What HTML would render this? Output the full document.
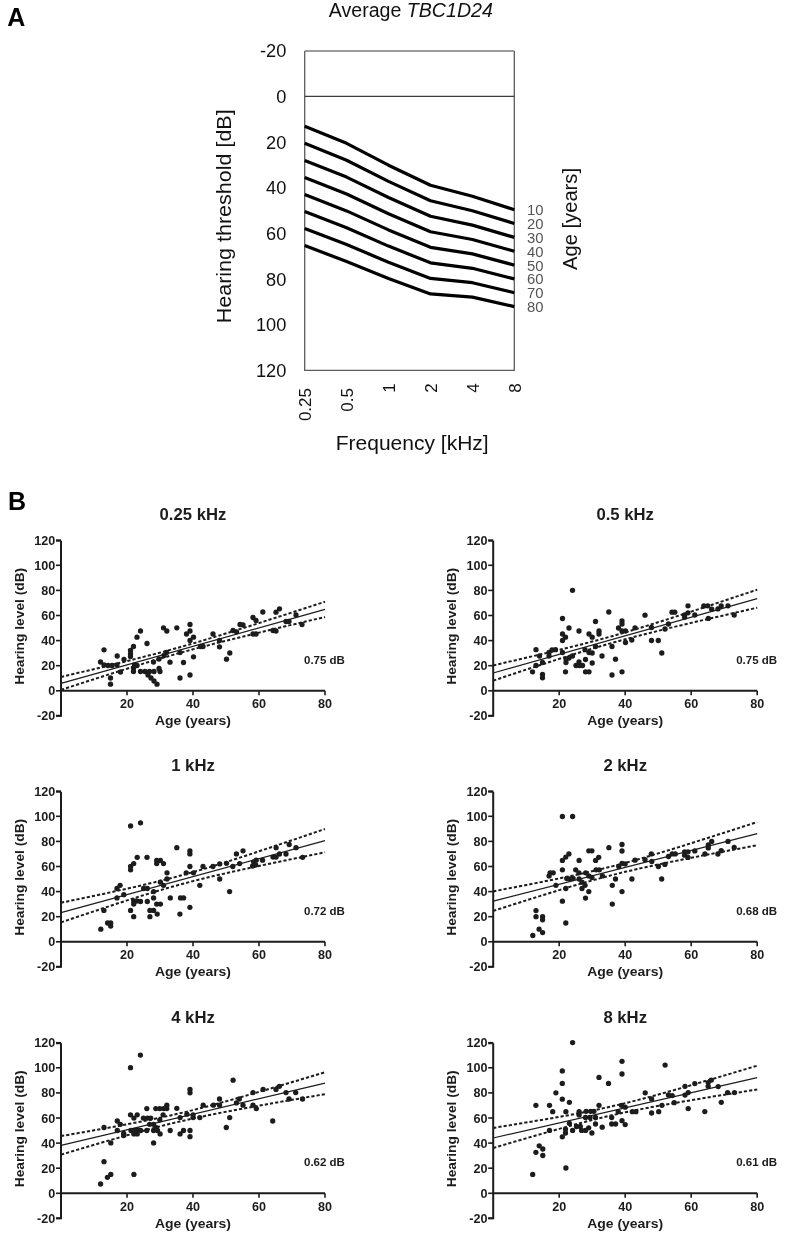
<!DOCTYPE html><html><head><meta charset="utf-8"><style>html,body{margin:0;padding:0;background:#fff;}svg{display:block;filter:blur(0.35px);}text{font-family:"Liberation Sans", sans-serif;}</style></head><body>
<svg width="799" height="1243" viewBox="0 0 799 1243">
<rect width="799" height="1243" fill="#fff"/>
<text x="7.3" y="26.3" font-size="25" font-weight="bold" fill="#000">A</text>
<text x="410.8" y="16.6" font-size="19.6" text-anchor="middle" fill="#111">Average <tspan font-style="italic">TBC1D24</tspan></text>
<path d="M304.7,51.0 V370.4 H514.3 V51.0" fill="none" stroke="#5c5c5c" stroke-width="1.3"/>
<line x1="304.7" y1="51.0" x2="514.3" y2="51.0" stroke="#7a7a7a" stroke-width="1.3"/>
<line x1="304.7" y1="96.4" x2="514.3" y2="96.4" stroke="#3c3c3c" stroke-width="1.1"/>
<text x="286.3" y="57.3" font-size="18.2" text-anchor="end" fill="#111">-20</text>
<text x="286.3" y="103.0" font-size="18.2" text-anchor="end" fill="#111">0</text>
<text x="286.3" y="148.7" font-size="18.2" text-anchor="end" fill="#111">20</text>
<text x="286.3" y="194.3" font-size="18.2" text-anchor="end" fill="#111">40</text>
<text x="286.3" y="240.0" font-size="18.2" text-anchor="end" fill="#111">60</text>
<text x="286.3" y="285.7" font-size="18.2" text-anchor="end" fill="#111">80</text>
<text x="286.3" y="331.3" font-size="18.2" text-anchor="end" fill="#111">100</text>
<text x="286.3" y="377.0" font-size="18.2" text-anchor="end" fill="#111">120</text>
<text transform="translate(311.2,388) rotate(-90)" font-size="17" text-anchor="end" fill="#111">0.25</text>
<text transform="translate(353.12,388) rotate(-90)" font-size="17" text-anchor="end" fill="#111">0.5</text>
<text transform="translate(395.03999999999996,383.2) rotate(-90)" font-size="17" text-anchor="end" fill="#111">1</text>
<text transform="translate(436.96,383.2) rotate(-90)" font-size="17" text-anchor="end" fill="#111">2</text>
<text transform="translate(478.88,383.2) rotate(-90)" font-size="17" text-anchor="end" fill="#111">4</text>
<text transform="translate(520.8,383.2) rotate(-90)" font-size="17" text-anchor="end" fill="#111">8</text>
<text x="412.2" y="449.6" font-size="20" text-anchor="middle" textLength="153" lengthAdjust="spacingAndGlyphs" fill="#111">Frequency [kHz]</text>
<text transform="translate(230.5,216.3) rotate(-90)" font-size="20" text-anchor="middle" textLength="214" lengthAdjust="spacingAndGlyphs" fill="#111">Hearing threshold [dB]</text>
<text transform="translate(577.2,219) rotate(-90)" font-size="20" text-anchor="middle" textLength="102" lengthAdjust="spacingAndGlyphs" fill="#111">Age [years]</text>
<polyline points="304.7,126.3 346.6,143.3 388.5,165.2 430.5,185.2 472.4,196.3 514.3,209.7" fill="none" stroke="#000" stroke-width="3.2" stroke-linejoin="round"/>
<text x="527" y="215.1" font-size="14.8" fill="#555">10</text>
<polyline points="304.7,143.3 346.6,160.2 388.5,181.4 430.5,200.7 472.4,210.7 514.3,223.5" fill="none" stroke="#000" stroke-width="3.2" stroke-linejoin="round"/>
<text x="527" y="228.9" font-size="14.8" fill="#555">20</text>
<polyline points="304.7,160.4 346.6,177.1 388.5,197.5 430.5,216.3 472.4,225.1 514.3,237.4" fill="none" stroke="#000" stroke-width="3.2" stroke-linejoin="round"/>
<text x="527" y="242.8" font-size="14.8" fill="#555">30</text>
<polyline points="304.7,177.4 346.6,194.0 388.5,213.7 430.5,231.8 472.4,239.5 514.3,251.2" fill="none" stroke="#000" stroke-width="3.2" stroke-linejoin="round"/>
<text x="527" y="256.6" font-size="14.8" fill="#555">40</text>
<polyline points="304.7,194.5 346.6,210.9 388.5,229.9 430.5,247.3 472.4,253.9 514.3,265.1" fill="none" stroke="#000" stroke-width="3.2" stroke-linejoin="round"/>
<text x="527" y="270.5" font-size="14.8" fill="#555">50</text>
<polyline points="304.7,211.5 346.6,227.8 388.5,246.1 430.5,262.8 472.4,268.3 514.3,278.9" fill="none" stroke="#000" stroke-width="3.2" stroke-linejoin="round"/>
<text x="527" y="284.3" font-size="14.8" fill="#555">60</text>
<polyline points="304.7,228.5 346.6,244.6 388.5,262.2 430.5,278.4 472.4,282.7 514.3,292.7" fill="none" stroke="#000" stroke-width="3.2" stroke-linejoin="round"/>
<text x="527" y="298.1" font-size="14.8" fill="#555">70</text>
<polyline points="304.7,245.6 346.6,261.5 388.5,278.4 430.5,293.9 472.4,297.1 514.3,306.6" fill="none" stroke="#000" stroke-width="3.2" stroke-linejoin="round"/>
<text x="527" y="312.0" font-size="14.8" fill="#555">80</text>
<text x="8" y="509.8" font-size="25" font-weight="bold" fill="#000">B</text>
<g><text x="193" y="520.1999999999999" font-size="16.7" font-weight="bold" text-anchor="middle" fill="#1c1c1c">0.25 kHz</text><path d="M61,540.8 V715.8 H56 M56,540.8 H61 M61,690.8 H325" fill="none" stroke="#1c1c1c" stroke-width="2"/><line x1="56" y1="715.90" x2="61" y2="715.90" stroke="#1c1c1c" stroke-width="1.6"/><text x="55.2" y="720.40" font-size="12.6" font-weight="bold" text-anchor="end" fill="#1c1c1c">-20</text><line x1="56" y1="690.80" x2="61" y2="690.80" stroke="#1c1c1c" stroke-width="1.6"/><text x="55.2" y="695.30" font-size="12.6" font-weight="bold" text-anchor="end" fill="#1c1c1c">0</text><line x1="56" y1="665.70" x2="61" y2="665.70" stroke="#1c1c1c" stroke-width="1.6"/><text x="55.2" y="670.20" font-size="12.6" font-weight="bold" text-anchor="end" fill="#1c1c1c">20</text><line x1="56" y1="640.60" x2="61" y2="640.60" stroke="#1c1c1c" stroke-width="1.6"/><text x="55.2" y="645.10" font-size="12.6" font-weight="bold" text-anchor="end" fill="#1c1c1c">40</text><line x1="56" y1="615.50" x2="61" y2="615.50" stroke="#1c1c1c" stroke-width="1.6"/><text x="55.2" y="620.00" font-size="12.6" font-weight="bold" text-anchor="end" fill="#1c1c1c">60</text><line x1="56" y1="590.40" x2="61" y2="590.40" stroke="#1c1c1c" stroke-width="1.6"/><text x="55.2" y="594.90" font-size="12.6" font-weight="bold" text-anchor="end" fill="#1c1c1c">80</text><line x1="56" y1="565.30" x2="61" y2="565.30" stroke="#1c1c1c" stroke-width="1.6"/><text x="55.2" y="569.80" font-size="12.6" font-weight="bold" text-anchor="end" fill="#1c1c1c">100</text><line x1="56" y1="540.20" x2="61" y2="540.20" stroke="#1c1c1c" stroke-width="1.6"/><text x="55.2" y="544.70" font-size="12.6" font-weight="bold" text-anchor="end" fill="#1c1c1c">120</text><line x1="127.00" y1="690.8" x2="127.00" y2="695.3" stroke="#1c1c1c" stroke-width="1.6"/><text x="127.00" y="708.0" font-size="12.6" font-weight="bold" text-anchor="middle" fill="#1c1c1c">20</text><line x1="193.00" y1="690.8" x2="193.00" y2="695.3" stroke="#1c1c1c" stroke-width="1.6"/><text x="193.00" y="708.0" font-size="12.6" font-weight="bold" text-anchor="middle" fill="#1c1c1c">40</text><line x1="259.00" y1="690.8" x2="259.00" y2="695.3" stroke="#1c1c1c" stroke-width="1.6"/><text x="259.00" y="708.0" font-size="12.6" font-weight="bold" text-anchor="middle" fill="#1c1c1c">60</text><line x1="325.00" y1="690.8" x2="325.00" y2="695.3" stroke="#1c1c1c" stroke-width="1.6"/><text x="325.00" y="708.0" font-size="12.6" font-weight="bold" text-anchor="middle" fill="#1c1c1c">80</text><text x="193" y="725.4" font-size="13.4" font-weight="bold" text-anchor="middle" textLength="76" lengthAdjust="spacingAndGlyphs" fill="#1c1c1c">Age (years)</text><text transform="translate(23.9,626.3) rotate(-90)" font-size="13.4" font-weight="bold" text-anchor="middle" textLength="117" lengthAdjust="spacingAndGlyphs" fill="#1c1c1c">Hearing level (dB)</text><text x="304" y="663.5999999999999" font-size="11.5" font-weight="bold" fill="#1c1c1c">0.75 dB</text><line x1="61.0" y1="683.4" x2="325.0" y2="609.4" stroke="#1c1c1c" stroke-width="1.2"/><polyline points="61.0,677.0 74.2,673.8 87.4,670.7 100.6,667.5 113.8,664.3 127.0,661.1 140.2,657.7 153.4,654.4 166.6,650.9 179.8,647.2 193.0,643.5 206.2,639.5 219.4,635.5 232.6,631.4 245.8,627.3 259.0,623.1 272.2,618.8 285.4,614.6 298.6,610.3 311.8,606.0 325.0,601.7" fill="none" stroke="#1c1c1c" stroke-width="2" stroke-dasharray="3.2,2.05"/><polyline points="61.0,689.8 74.2,685.6 87.4,681.3 100.6,677.1 113.8,672.9 127.0,668.7 140.2,664.6 153.4,660.6 166.6,656.7 179.8,652.9 193.0,649.3 206.2,645.8 219.4,642.4 232.6,639.1 245.8,635.9 259.0,632.6 272.2,629.5 285.4,626.3 298.6,623.2 311.8,620.1 325.0,617.0" fill="none" stroke="#1c1c1c" stroke-width="2" stroke-dasharray="3.2,2.05"/><circle cx="104.0" cy="649.8" r="2.65" fill="#1c1c1c"/><circle cx="100.5" cy="662.0" r="2.65" fill="#1c1c1c"/><circle cx="104.0" cy="665.0" r="2.65" fill="#1c1c1c"/><circle cx="108.0" cy="665.5" r="2.65" fill="#1c1c1c"/><circle cx="112.0" cy="665.5" r="2.65" fill="#1c1c1c"/><circle cx="117.0" cy="665.0" r="2.65" fill="#1c1c1c"/><circle cx="117.2" cy="656.0" r="2.65" fill="#1c1c1c"/><circle cx="124.0" cy="659.5" r="2.65" fill="#1c1c1c"/><circle cx="120.5" cy="672.0" r="2.65" fill="#1c1c1c"/><circle cx="110.5" cy="678.0" r="2.65" fill="#1c1c1c"/><circle cx="110.5" cy="684.2" r="2.65" fill="#1c1c1c"/><circle cx="140.5" cy="631.0" r="2.65" fill="#1c1c1c"/><circle cx="137.0" cy="637.2" r="2.65" fill="#1c1c1c"/><circle cx="147.0" cy="643.5" r="2.65" fill="#1c1c1c"/><circle cx="133.5" cy="646.5" r="2.65" fill="#1c1c1c"/><circle cx="130.5" cy="650.5" r="2.65" fill="#1c1c1c"/><circle cx="130.5" cy="654.0" r="2.65" fill="#1c1c1c"/><circle cx="130.5" cy="656.5" r="2.65" fill="#1c1c1c"/><circle cx="134.5" cy="665.0" r="2.65" fill="#1c1c1c"/><circle cx="137.0" cy="665.5" r="2.65" fill="#1c1c1c"/><circle cx="133.5" cy="668.0" r="2.65" fill="#1c1c1c"/><circle cx="133.5" cy="671.5" r="2.65" fill="#1c1c1c"/><circle cx="140.5" cy="671.5" r="2.65" fill="#1c1c1c"/><circle cx="145.0" cy="671.5" r="2.65" fill="#1c1c1c"/><circle cx="149.5" cy="671.5" r="2.65" fill="#1c1c1c"/><circle cx="154.0" cy="671.5" r="2.65" fill="#1c1c1c"/><circle cx="159.0" cy="668.5" r="2.65" fill="#1c1c1c"/><circle cx="160.0" cy="671.5" r="2.65" fill="#1c1c1c"/><circle cx="148.0" cy="675.0" r="2.65" fill="#1c1c1c"/><circle cx="151.0" cy="678.0" r="2.65" fill="#1c1c1c"/><circle cx="154.0" cy="681.0" r="2.65" fill="#1c1c1c"/><circle cx="157.0" cy="684.2" r="2.65" fill="#1c1c1c"/><circle cx="153.5" cy="662.0" r="2.65" fill="#1c1c1c"/><circle cx="159.0" cy="659.0" r="2.65" fill="#1c1c1c"/><circle cx="164.0" cy="655.5" r="2.65" fill="#1c1c1c"/><circle cx="166.5" cy="652.5" r="2.65" fill="#1c1c1c"/><circle cx="163.5" cy="627.8" r="2.65" fill="#1c1c1c"/><circle cx="166.8" cy="631.0" r="2.65" fill="#1c1c1c"/><circle cx="170.0" cy="662.2" r="2.65" fill="#1c1c1c"/><circle cx="176.8" cy="627.8" r="2.65" fill="#1c1c1c"/><circle cx="190.0" cy="624.5" r="2.65" fill="#1c1c1c"/><circle cx="190.0" cy="631.0" r="2.65" fill="#1c1c1c"/><circle cx="186.5" cy="634.0" r="2.65" fill="#1c1c1c"/><circle cx="193.5" cy="637.2" r="2.65" fill="#1c1c1c"/><circle cx="190.0" cy="640.5" r="2.65" fill="#1c1c1c"/><circle cx="213.0" cy="634.0" r="2.65" fill="#1c1c1c"/><circle cx="200.5" cy="646.5" r="2.65" fill="#1c1c1c"/><circle cx="203.0" cy="646.5" r="2.65" fill="#1c1c1c"/><circle cx="180.0" cy="652.5" r="2.65" fill="#1c1c1c"/><circle cx="219.5" cy="640.5" r="2.65" fill="#1c1c1c"/><circle cx="219.5" cy="646.8" r="2.65" fill="#1c1c1c"/><circle cx="233.0" cy="630.5" r="2.65" fill="#1c1c1c"/><circle cx="236.5" cy="631.8" r="2.65" fill="#1c1c1c"/><circle cx="240.0" cy="624.5" r="2.65" fill="#1c1c1c"/><circle cx="243.0" cy="625.0" r="2.65" fill="#1c1c1c"/><circle cx="229.8" cy="653.0" r="2.65" fill="#1c1c1c"/><circle cx="226.5" cy="659.2" r="2.65" fill="#1c1c1c"/><circle cx="193.5" cy="656.8" r="2.65" fill="#1c1c1c"/><circle cx="183.5" cy="662.5" r="2.65" fill="#1c1c1c"/><circle cx="190.0" cy="675.0" r="2.65" fill="#1c1c1c"/><circle cx="180.0" cy="678.0" r="2.65" fill="#1c1c1c"/><circle cx="253.0" cy="617.5" r="2.65" fill="#1c1c1c"/><circle cx="256.0" cy="620.5" r="2.65" fill="#1c1c1c"/><circle cx="262.8" cy="612.0" r="2.65" fill="#1c1c1c"/><circle cx="276.0" cy="612.2" r="2.65" fill="#1c1c1c"/><circle cx="279.5" cy="608.8" r="2.65" fill="#1c1c1c"/><circle cx="253.0" cy="634.0" r="2.65" fill="#1c1c1c"/><circle cx="256.0" cy="634.0" r="2.65" fill="#1c1c1c"/><circle cx="273.0" cy="630.5" r="2.65" fill="#1c1c1c"/><circle cx="276.0" cy="631.0" r="2.65" fill="#1c1c1c"/><circle cx="286.0" cy="621.5" r="2.65" fill="#1c1c1c"/><circle cx="289.0" cy="621.5" r="2.65" fill="#1c1c1c"/><circle cx="296.0" cy="615.0" r="2.65" fill="#1c1c1c"/><circle cx="302.0" cy="624.5" r="2.65" fill="#1c1c1c"/></g>
<g><text x="625.2" y="520.1999999999999" font-size="16.7" font-weight="bold" text-anchor="middle" fill="#1c1c1c">0.5 kHz</text><path d="M493.2,540.8 V715.8 H488.2 M488.2,540.8 H493.2 M493.2,690.8 H757.2" fill="none" stroke="#1c1c1c" stroke-width="2"/><line x1="488.2" y1="715.90" x2="493.2" y2="715.90" stroke="#1c1c1c" stroke-width="1.6"/><text x="487.4" y="720.40" font-size="12.6" font-weight="bold" text-anchor="end" fill="#1c1c1c">-20</text><line x1="488.2" y1="690.80" x2="493.2" y2="690.80" stroke="#1c1c1c" stroke-width="1.6"/><text x="487.4" y="695.30" font-size="12.6" font-weight="bold" text-anchor="end" fill="#1c1c1c">0</text><line x1="488.2" y1="665.70" x2="493.2" y2="665.70" stroke="#1c1c1c" stroke-width="1.6"/><text x="487.4" y="670.20" font-size="12.6" font-weight="bold" text-anchor="end" fill="#1c1c1c">20</text><line x1="488.2" y1="640.60" x2="493.2" y2="640.60" stroke="#1c1c1c" stroke-width="1.6"/><text x="487.4" y="645.10" font-size="12.6" font-weight="bold" text-anchor="end" fill="#1c1c1c">40</text><line x1="488.2" y1="615.50" x2="493.2" y2="615.50" stroke="#1c1c1c" stroke-width="1.6"/><text x="487.4" y="620.00" font-size="12.6" font-weight="bold" text-anchor="end" fill="#1c1c1c">60</text><line x1="488.2" y1="590.40" x2="493.2" y2="590.40" stroke="#1c1c1c" stroke-width="1.6"/><text x="487.4" y="594.90" font-size="12.6" font-weight="bold" text-anchor="end" fill="#1c1c1c">80</text><line x1="488.2" y1="565.30" x2="493.2" y2="565.30" stroke="#1c1c1c" stroke-width="1.6"/><text x="487.4" y="569.80" font-size="12.6" font-weight="bold" text-anchor="end" fill="#1c1c1c">100</text><line x1="488.2" y1="540.20" x2="493.2" y2="540.20" stroke="#1c1c1c" stroke-width="1.6"/><text x="487.4" y="544.70" font-size="12.6" font-weight="bold" text-anchor="end" fill="#1c1c1c">120</text><line x1="559.20" y1="690.8" x2="559.20" y2="695.3" stroke="#1c1c1c" stroke-width="1.6"/><text x="559.20" y="708.0" font-size="12.6" font-weight="bold" text-anchor="middle" fill="#1c1c1c">20</text><line x1="625.20" y1="690.8" x2="625.20" y2="695.3" stroke="#1c1c1c" stroke-width="1.6"/><text x="625.20" y="708.0" font-size="12.6" font-weight="bold" text-anchor="middle" fill="#1c1c1c">40</text><line x1="691.20" y1="690.8" x2="691.20" y2="695.3" stroke="#1c1c1c" stroke-width="1.6"/><text x="691.20" y="708.0" font-size="12.6" font-weight="bold" text-anchor="middle" fill="#1c1c1c">60</text><line x1="757.20" y1="690.8" x2="757.20" y2="695.3" stroke="#1c1c1c" stroke-width="1.6"/><text x="757.20" y="708.0" font-size="12.6" font-weight="bold" text-anchor="middle" fill="#1c1c1c">80</text><text x="625.2" y="725.4" font-size="13.4" font-weight="bold" text-anchor="middle" textLength="76" lengthAdjust="spacingAndGlyphs" fill="#1c1c1c">Age (years)</text><text transform="translate(456.09999999999997,626.3) rotate(-90)" font-size="13.4" font-weight="bold" text-anchor="middle" textLength="117" lengthAdjust="spacingAndGlyphs" fill="#1c1c1c">Hearing level (dB)</text><text x="736.2" y="663.5999999999999" font-size="11.5" font-weight="bold" fill="#1c1c1c">0.75 dB</text><line x1="493.2" y1="673.0" x2="757.2" y2="598.7" stroke="#1c1c1c" stroke-width="1.2"/><polyline points="493.2,665.4 506.4,662.3 519.6,659.3 532.8,656.2 546.0,653.1 559.2,649.9 572.4,646.6 585.6,643.3 598.8,639.8 612.0,636.2 625.2,632.4 638.4,628.4 651.6,624.3 664.8,620.2 678.0,615.9 691.2,611.6 704.4,607.3 717.6,602.9 730.8,598.5 744.0,594.1 757.2,589.7" fill="none" stroke="#1c1c1c" stroke-width="2" stroke-dasharray="3.2,2.05"/><polyline points="493.2,680.6 506.4,676.2 519.6,671.8 532.8,667.5 546.0,663.2 559.2,658.9 572.4,654.7 585.6,650.7 598.8,646.7 612.0,642.9 625.2,639.3 638.4,635.8 651.6,632.5 664.8,629.2 678.0,626.0 691.2,622.9 704.4,619.8 717.6,616.8 730.8,613.7 744.0,610.7 757.2,607.7" fill="none" stroke="#1c1c1c" stroke-width="2" stroke-dasharray="3.2,2.05"/><circle cx="572.5" cy="590.3" r="2.65" fill="#1c1c1c"/><circle cx="562.5" cy="618.5" r="2.65" fill="#1c1c1c"/><circle cx="569.0" cy="628.0" r="2.65" fill="#1c1c1c"/><circle cx="579.0" cy="631.0" r="2.65" fill="#1c1c1c"/><circle cx="595.5" cy="621.5" r="2.65" fill="#1c1c1c"/><circle cx="599.0" cy="631.0" r="2.65" fill="#1c1c1c"/><circle cx="599.0" cy="634.0" r="2.65" fill="#1c1c1c"/><circle cx="589.0" cy="634.0" r="2.65" fill="#1c1c1c"/><circle cx="592.2" cy="637.2" r="2.65" fill="#1c1c1c"/><circle cx="562.5" cy="634.0" r="2.65" fill="#1c1c1c"/><circle cx="565.5" cy="637.2" r="2.65" fill="#1c1c1c"/><circle cx="562.5" cy="640.5" r="2.65" fill="#1c1c1c"/><circle cx="536.0" cy="649.7" r="2.65" fill="#1c1c1c"/><circle cx="539.5" cy="656.0" r="2.65" fill="#1c1c1c"/><circle cx="549.0" cy="652.5" r="2.65" fill="#1c1c1c"/><circle cx="549.0" cy="656.0" r="2.65" fill="#1c1c1c"/><circle cx="552.0" cy="650.0" r="2.65" fill="#1c1c1c"/><circle cx="555.5" cy="649.7" r="2.65" fill="#1c1c1c"/><circle cx="562.5" cy="652.5" r="2.65" fill="#1c1c1c"/><circle cx="585.0" cy="649.7" r="2.65" fill="#1c1c1c"/><circle cx="589.0" cy="652.5" r="2.65" fill="#1c1c1c"/><circle cx="592.2" cy="653.0" r="2.65" fill="#1c1c1c"/><circle cx="595.5" cy="646.5" r="2.65" fill="#1c1c1c"/><circle cx="602.0" cy="656.0" r="2.65" fill="#1c1c1c"/><circle cx="566.0" cy="659.0" r="2.65" fill="#1c1c1c"/><circle cx="569.0" cy="658.0" r="2.65" fill="#1c1c1c"/><circle cx="572.5" cy="656.0" r="2.65" fill="#1c1c1c"/><circle cx="566.0" cy="662.5" r="2.65" fill="#1c1c1c"/><circle cx="585.5" cy="659.5" r="2.65" fill="#1c1c1c"/><circle cx="592.2" cy="663.0" r="2.65" fill="#1c1c1c"/><circle cx="579.0" cy="662.0" r="2.65" fill="#1c1c1c"/><circle cx="576.0" cy="665.5" r="2.65" fill="#1c1c1c"/><circle cx="579.5" cy="665.5" r="2.65" fill="#1c1c1c"/><circle cx="582.5" cy="665.5" r="2.65" fill="#1c1c1c"/><circle cx="536.0" cy="665.5" r="2.65" fill="#1c1c1c"/><circle cx="542.5" cy="662.5" r="2.65" fill="#1c1c1c"/><circle cx="532.5" cy="671.8" r="2.65" fill="#1c1c1c"/><circle cx="542.5" cy="674.5" r="2.65" fill="#1c1c1c"/><circle cx="542.5" cy="677.8" r="2.65" fill="#1c1c1c"/><circle cx="565.5" cy="671.8" r="2.65" fill="#1c1c1c"/><circle cx="585.5" cy="671.8" r="2.65" fill="#1c1c1c"/><circle cx="589.0" cy="671.8" r="2.65" fill="#1c1c1c"/><circle cx="608.8" cy="612.0" r="2.65" fill="#1c1c1c"/><circle cx="645.0" cy="615.2" r="2.65" fill="#1c1c1c"/><circle cx="672.0" cy="612.2" r="2.65" fill="#1c1c1c"/><circle cx="674.8" cy="612.2" r="2.65" fill="#1c1c1c"/><circle cx="622.0" cy="621.0" r="2.65" fill="#1c1c1c"/><circle cx="622.0" cy="624.0" r="2.65" fill="#1c1c1c"/><circle cx="618.5" cy="628.0" r="2.65" fill="#1c1c1c"/><circle cx="622.0" cy="631.0" r="2.65" fill="#1c1c1c"/><circle cx="625.5" cy="631.0" r="2.65" fill="#1c1c1c"/><circle cx="635.0" cy="627.8" r="2.65" fill="#1c1c1c"/><circle cx="651.5" cy="627.5" r="2.65" fill="#1c1c1c"/><circle cx="668.5" cy="624.0" r="2.65" fill="#1c1c1c"/><circle cx="665.0" cy="629.0" r="2.65" fill="#1c1c1c"/><circle cx="612.0" cy="646.5" r="2.65" fill="#1c1c1c"/><circle cx="625.5" cy="642.5" r="2.65" fill="#1c1c1c"/><circle cx="631.8" cy="640.0" r="2.65" fill="#1c1c1c"/><circle cx="651.5" cy="640.5" r="2.65" fill="#1c1c1c"/><circle cx="658.3" cy="640.5" r="2.65" fill="#1c1c1c"/><circle cx="661.8" cy="653.0" r="2.65" fill="#1c1c1c"/><circle cx="615.5" cy="659.2" r="2.65" fill="#1c1c1c"/><circle cx="622.0" cy="671.8" r="2.65" fill="#1c1c1c"/><circle cx="612.0" cy="675.0" r="2.65" fill="#1c1c1c"/><circle cx="688.0" cy="605.8" r="2.65" fill="#1c1c1c"/><circle cx="688.0" cy="612.8" r="2.65" fill="#1c1c1c"/><circle cx="684.6" cy="615.0" r="2.65" fill="#1c1c1c"/><circle cx="684.6" cy="617.3" r="2.65" fill="#1c1c1c"/><circle cx="694.8" cy="615.0" r="2.65" fill="#1c1c1c"/><circle cx="703.8" cy="606.0" r="2.65" fill="#1c1c1c"/><circle cx="707.7" cy="605.8" r="2.65" fill="#1c1c1c"/><circle cx="711.7" cy="609.2" r="2.65" fill="#1c1c1c"/><circle cx="717.9" cy="608.9" r="2.65" fill="#1c1c1c"/><circle cx="721.2" cy="606.0" r="2.65" fill="#1c1c1c"/><circle cx="728.0" cy="605.8" r="2.65" fill="#1c1c1c"/><circle cx="708.3" cy="618.4" r="2.65" fill="#1c1c1c"/><circle cx="734.2" cy="615.0" r="2.65" fill="#1c1c1c"/></g>
<g><text x="193" y="771.1999999999999" font-size="16.7" font-weight="bold" text-anchor="middle" fill="#1c1c1c">1 kHz</text><path d="M61,791.8 V966.8 H56 M56,791.8 H61 M61,941.8 H325" fill="none" stroke="#1c1c1c" stroke-width="2"/><line x1="56" y1="966.90" x2="61" y2="966.90" stroke="#1c1c1c" stroke-width="1.6"/><text x="55.2" y="971.40" font-size="12.6" font-weight="bold" text-anchor="end" fill="#1c1c1c">-20</text><line x1="56" y1="941.80" x2="61" y2="941.80" stroke="#1c1c1c" stroke-width="1.6"/><text x="55.2" y="946.30" font-size="12.6" font-weight="bold" text-anchor="end" fill="#1c1c1c">0</text><line x1="56" y1="916.70" x2="61" y2="916.70" stroke="#1c1c1c" stroke-width="1.6"/><text x="55.2" y="921.20" font-size="12.6" font-weight="bold" text-anchor="end" fill="#1c1c1c">20</text><line x1="56" y1="891.60" x2="61" y2="891.60" stroke="#1c1c1c" stroke-width="1.6"/><text x="55.2" y="896.10" font-size="12.6" font-weight="bold" text-anchor="end" fill="#1c1c1c">40</text><line x1="56" y1="866.50" x2="61" y2="866.50" stroke="#1c1c1c" stroke-width="1.6"/><text x="55.2" y="871.00" font-size="12.6" font-weight="bold" text-anchor="end" fill="#1c1c1c">60</text><line x1="56" y1="841.40" x2="61" y2="841.40" stroke="#1c1c1c" stroke-width="1.6"/><text x="55.2" y="845.90" font-size="12.6" font-weight="bold" text-anchor="end" fill="#1c1c1c">80</text><line x1="56" y1="816.30" x2="61" y2="816.30" stroke="#1c1c1c" stroke-width="1.6"/><text x="55.2" y="820.80" font-size="12.6" font-weight="bold" text-anchor="end" fill="#1c1c1c">100</text><line x1="56" y1="791.20" x2="61" y2="791.20" stroke="#1c1c1c" stroke-width="1.6"/><text x="55.2" y="795.70" font-size="12.6" font-weight="bold" text-anchor="end" fill="#1c1c1c">120</text><line x1="127.00" y1="941.8" x2="127.00" y2="946.3" stroke="#1c1c1c" stroke-width="1.6"/><text x="127.00" y="959.0" font-size="12.6" font-weight="bold" text-anchor="middle" fill="#1c1c1c">20</text><line x1="193.00" y1="941.8" x2="193.00" y2="946.3" stroke="#1c1c1c" stroke-width="1.6"/><text x="193.00" y="959.0" font-size="12.6" font-weight="bold" text-anchor="middle" fill="#1c1c1c">40</text><line x1="259.00" y1="941.8" x2="259.00" y2="946.3" stroke="#1c1c1c" stroke-width="1.6"/><text x="259.00" y="959.0" font-size="12.6" font-weight="bold" text-anchor="middle" fill="#1c1c1c">60</text><line x1="325.00" y1="941.8" x2="325.00" y2="946.3" stroke="#1c1c1c" stroke-width="1.6"/><text x="325.00" y="959.0" font-size="12.6" font-weight="bold" text-anchor="middle" fill="#1c1c1c">80</text><text x="193" y="976.4" font-size="13.4" font-weight="bold" text-anchor="middle" textLength="76" lengthAdjust="spacingAndGlyphs" fill="#1c1c1c">Age (years)</text><text transform="translate(23.9,877.3) rotate(-90)" font-size="13.4" font-weight="bold" text-anchor="middle" textLength="117" lengthAdjust="spacingAndGlyphs" fill="#1c1c1c">Hearing level (dB)</text><text x="304" y="914.5999999999999" font-size="11.5" font-weight="bold" fill="#1c1c1c">0.72 dB</text><line x1="61.0" y1="912.6" x2="325.0" y2="840.6" stroke="#1c1c1c" stroke-width="1.2"/><polyline points="61.0,902.7 74.2,900.0 87.4,897.2 100.6,894.5 113.8,891.6 127.0,888.7 140.2,885.7 153.4,882.6 166.6,879.3 179.8,875.8 193.0,872.1 206.2,868.2 219.4,864.2 232.6,860.0 245.8,855.7 259.0,851.3 272.2,846.9 285.4,842.5 298.6,838.0 311.8,833.5 325.0,829.0" fill="none" stroke="#1c1c1c" stroke-width="2" stroke-dasharray="3.2,2.05"/><polyline points="61.0,922.4 74.2,917.9 87.4,913.5 100.6,909.1 113.8,904.7 127.0,900.4 140.2,896.2 153.4,892.2 166.6,888.3 179.8,884.6 193.0,881.1 206.2,877.8 219.4,874.7 232.6,871.7 245.8,868.8 259.0,865.9 272.2,863.2 285.4,860.4 298.6,857.7 311.8,855.0 325.0,852.3" fill="none" stroke="#1c1c1c" stroke-width="2" stroke-dasharray="3.2,2.05"/><circle cx="130.6" cy="825.9" r="2.65" fill="#1c1c1c"/><circle cx="140.5" cy="822.8" r="2.65" fill="#1c1c1c"/><circle cx="137.2" cy="857.3" r="2.65" fill="#1c1c1c"/><circle cx="147.0" cy="857.3" r="2.65" fill="#1c1c1c"/><circle cx="133.7" cy="863.6" r="2.65" fill="#1c1c1c"/><circle cx="130.6" cy="866.5" r="2.65" fill="#1c1c1c"/><circle cx="130.6" cy="869.8" r="2.65" fill="#1c1c1c"/><circle cx="156.7" cy="860.4" r="2.65" fill="#1c1c1c"/><circle cx="160.4" cy="860.4" r="2.65" fill="#1c1c1c"/><circle cx="156.7" cy="863.6" r="2.65" fill="#1c1c1c"/><circle cx="163.5" cy="863.6" r="2.65" fill="#1c1c1c"/><circle cx="167.0" cy="872.8" r="2.65" fill="#1c1c1c"/><circle cx="167.0" cy="879.0" r="2.65" fill="#1c1c1c"/><circle cx="160.4" cy="882.2" r="2.65" fill="#1c1c1c"/><circle cx="163.5" cy="885.3" r="2.65" fill="#1c1c1c"/><circle cx="120.1" cy="885.3" r="2.65" fill="#1c1c1c"/><circle cx="117.0" cy="888.5" r="2.65" fill="#1c1c1c"/><circle cx="143.6" cy="888.5" r="2.65" fill="#1c1c1c"/><circle cx="147.3" cy="888.5" r="2.65" fill="#1c1c1c"/><circle cx="153.6" cy="891.6" r="2.65" fill="#1c1c1c"/><circle cx="123.8" cy="894.7" r="2.65" fill="#1c1c1c"/><circle cx="117.0" cy="897.9" r="2.65" fill="#1c1c1c"/><circle cx="153.6" cy="897.9" r="2.65" fill="#1c1c1c"/><circle cx="170.3" cy="897.9" r="2.65" fill="#1c1c1c"/><circle cx="133.7" cy="901.0" r="2.65" fill="#1c1c1c"/><circle cx="136.8" cy="901.0" r="2.65" fill="#1c1c1c"/><circle cx="140.5" cy="901.5" r="2.65" fill="#1c1c1c"/><circle cx="133.7" cy="904.1" r="2.65" fill="#1c1c1c"/><circle cx="147.3" cy="901.5" r="2.65" fill="#1c1c1c"/><circle cx="156.7" cy="904.1" r="2.65" fill="#1c1c1c"/><circle cx="160.4" cy="904.1" r="2.65" fill="#1c1c1c"/><circle cx="103.9" cy="910.4" r="2.65" fill="#1c1c1c"/><circle cx="130.6" cy="910.4" r="2.65" fill="#1c1c1c"/><circle cx="149.9" cy="910.4" r="2.65" fill="#1c1c1c"/><circle cx="153.6" cy="910.4" r="2.65" fill="#1c1c1c"/><circle cx="157.2" cy="914.1" r="2.65" fill="#1c1c1c"/><circle cx="133.7" cy="916.7" r="2.65" fill="#1c1c1c"/><circle cx="149.9" cy="916.7" r="2.65" fill="#1c1c1c"/><circle cx="107.6" cy="923.0" r="2.65" fill="#1c1c1c"/><circle cx="110.7" cy="923.0" r="2.65" fill="#1c1c1c"/><circle cx="110.7" cy="926.1" r="2.65" fill="#1c1c1c"/><circle cx="100.8" cy="929.2" r="2.65" fill="#1c1c1c"/><circle cx="176.8" cy="847.7" r="2.65" fill="#1c1c1c"/><circle cx="189.9" cy="850.8" r="2.65" fill="#1c1c1c"/><circle cx="189.9" cy="853.9" r="2.65" fill="#1c1c1c"/><circle cx="189.9" cy="866.5" r="2.65" fill="#1c1c1c"/><circle cx="186.2" cy="872.8" r="2.65" fill="#1c1c1c"/><circle cx="193.5" cy="872.8" r="2.65" fill="#1c1c1c"/><circle cx="203.0" cy="866.5" r="2.65" fill="#1c1c1c"/><circle cx="212.9" cy="866.5" r="2.65" fill="#1c1c1c"/><circle cx="219.7" cy="863.9" r="2.65" fill="#1c1c1c"/><circle cx="226.5" cy="863.3" r="2.65" fill="#1c1c1c"/><circle cx="232.8" cy="866.5" r="2.65" fill="#1c1c1c"/><circle cx="239.6" cy="863.6" r="2.65" fill="#1c1c1c"/><circle cx="236.4" cy="853.9" r="2.65" fill="#1c1c1c"/><circle cx="243.0" cy="850.8" r="2.65" fill="#1c1c1c"/><circle cx="219.7" cy="879.0" r="2.65" fill="#1c1c1c"/><circle cx="199.8" cy="885.3" r="2.65" fill="#1c1c1c"/><circle cx="229.6" cy="891.6" r="2.65" fill="#1c1c1c"/><circle cx="180.5" cy="897.9" r="2.65" fill="#1c1c1c"/><circle cx="183.6" cy="897.9" r="2.65" fill="#1c1c1c"/><circle cx="189.9" cy="907.3" r="2.65" fill="#1c1c1c"/><circle cx="179.9" cy="914.1" r="2.65" fill="#1c1c1c"/><circle cx="253.6" cy="861.8" r="2.65" fill="#1c1c1c"/><circle cx="256.2" cy="860.2" r="2.65" fill="#1c1c1c"/><circle cx="252.6" cy="866.0" r="2.65" fill="#1c1c1c"/><circle cx="255.7" cy="864.9" r="2.65" fill="#1c1c1c"/><circle cx="262.5" cy="860.2" r="2.65" fill="#1c1c1c"/><circle cx="273.0" cy="857.1" r="2.65" fill="#1c1c1c"/><circle cx="276.1" cy="857.1" r="2.65" fill="#1c1c1c"/><circle cx="279.5" cy="854.0" r="2.65" fill="#1c1c1c"/><circle cx="276.1" cy="847.7" r="2.65" fill="#1c1c1c"/><circle cx="289.2" cy="844.5" r="2.65" fill="#1c1c1c"/><circle cx="286.0" cy="854.0" r="2.65" fill="#1c1c1c"/><circle cx="296.0" cy="847.7" r="2.65" fill="#1c1c1c"/><circle cx="302.6" cy="857.3" r="2.65" fill="#1c1c1c"/></g>
<g><text x="625.2" y="771.1999999999999" font-size="16.7" font-weight="bold" text-anchor="middle" fill="#1c1c1c">2 kHz</text><path d="M493.2,791.8 V966.8 H488.2 M488.2,791.8 H493.2 M493.2,941.8 H757.2" fill="none" stroke="#1c1c1c" stroke-width="2"/><line x1="488.2" y1="966.90" x2="493.2" y2="966.90" stroke="#1c1c1c" stroke-width="1.6"/><text x="487.4" y="971.40" font-size="12.6" font-weight="bold" text-anchor="end" fill="#1c1c1c">-20</text><line x1="488.2" y1="941.80" x2="493.2" y2="941.80" stroke="#1c1c1c" stroke-width="1.6"/><text x="487.4" y="946.30" font-size="12.6" font-weight="bold" text-anchor="end" fill="#1c1c1c">0</text><line x1="488.2" y1="916.70" x2="493.2" y2="916.70" stroke="#1c1c1c" stroke-width="1.6"/><text x="487.4" y="921.20" font-size="12.6" font-weight="bold" text-anchor="end" fill="#1c1c1c">20</text><line x1="488.2" y1="891.60" x2="493.2" y2="891.60" stroke="#1c1c1c" stroke-width="1.6"/><text x="487.4" y="896.10" font-size="12.6" font-weight="bold" text-anchor="end" fill="#1c1c1c">40</text><line x1="488.2" y1="866.50" x2="493.2" y2="866.50" stroke="#1c1c1c" stroke-width="1.6"/><text x="487.4" y="871.00" font-size="12.6" font-weight="bold" text-anchor="end" fill="#1c1c1c">60</text><line x1="488.2" y1="841.40" x2="493.2" y2="841.40" stroke="#1c1c1c" stroke-width="1.6"/><text x="487.4" y="845.90" font-size="12.6" font-weight="bold" text-anchor="end" fill="#1c1c1c">80</text><line x1="488.2" y1="816.30" x2="493.2" y2="816.30" stroke="#1c1c1c" stroke-width="1.6"/><text x="487.4" y="820.80" font-size="12.6" font-weight="bold" text-anchor="end" fill="#1c1c1c">100</text><line x1="488.2" y1="791.20" x2="493.2" y2="791.20" stroke="#1c1c1c" stroke-width="1.6"/><text x="487.4" y="795.70" font-size="12.6" font-weight="bold" text-anchor="end" fill="#1c1c1c">120</text><line x1="559.20" y1="941.8" x2="559.20" y2="946.3" stroke="#1c1c1c" stroke-width="1.6"/><text x="559.20" y="959.0" font-size="12.6" font-weight="bold" text-anchor="middle" fill="#1c1c1c">20</text><line x1="625.20" y1="941.8" x2="625.20" y2="946.3" stroke="#1c1c1c" stroke-width="1.6"/><text x="625.20" y="959.0" font-size="12.6" font-weight="bold" text-anchor="middle" fill="#1c1c1c">40</text><line x1="691.20" y1="941.8" x2="691.20" y2="946.3" stroke="#1c1c1c" stroke-width="1.6"/><text x="691.20" y="959.0" font-size="12.6" font-weight="bold" text-anchor="middle" fill="#1c1c1c">60</text><line x1="757.20" y1="941.8" x2="757.20" y2="946.3" stroke="#1c1c1c" stroke-width="1.6"/><text x="757.20" y="959.0" font-size="12.6" font-weight="bold" text-anchor="middle" fill="#1c1c1c">80</text><text x="625.2" y="976.4" font-size="13.4" font-weight="bold" text-anchor="middle" textLength="76" lengthAdjust="spacingAndGlyphs" fill="#1c1c1c">Age (years)</text><text transform="translate(456.09999999999997,877.3) rotate(-90)" font-size="13.4" font-weight="bold" text-anchor="middle" textLength="117" lengthAdjust="spacingAndGlyphs" fill="#1c1c1c">Hearing level (dB)</text><text x="736.2" y="914.5999999999999" font-size="11.5" font-weight="bold" fill="#1c1c1c">0.68 dB</text><line x1="493.2" y1="901.1" x2="757.2" y2="833.6" stroke="#1c1c1c" stroke-width="1.2"/><polyline points="493.2,891.4 506.4,888.8 519.6,886.3 532.8,883.7 546.0,881.1 559.2,878.4 572.4,875.7 585.6,872.8 598.8,869.7 612.0,866.4 625.2,862.9 638.4,859.3 651.6,855.4 664.8,851.4 678.0,847.4 691.2,843.2 704.4,839.0 717.6,834.8 730.8,830.6 744.0,826.3 757.2,822.1" fill="none" stroke="#1c1c1c" stroke-width="2" stroke-dasharray="3.2,2.05"/><polyline points="493.2,910.9 506.4,906.7 519.6,902.5 532.8,898.3 546.0,894.2 559.2,890.1 572.4,886.1 585.6,882.3 598.8,878.6 612.0,875.1 625.2,871.8 638.4,868.8 651.6,865.9 664.8,863.1 678.0,860.4 691.2,857.8 704.4,855.2 717.6,852.7 730.8,850.2 744.0,847.7 757.2,845.2" fill="none" stroke="#1c1c1c" stroke-width="2" stroke-dasharray="3.2,2.05"/><circle cx="562.4" cy="816.5" r="2.65" fill="#1c1c1c"/><circle cx="572.6" cy="816.5" r="2.65" fill="#1c1c1c"/><circle cx="588.8" cy="850.8" r="2.65" fill="#1c1c1c"/><circle cx="591.9" cy="850.8" r="2.65" fill="#1c1c1c"/><circle cx="568.9" cy="853.9" r="2.65" fill="#1c1c1c"/><circle cx="565.8" cy="857.1" r="2.65" fill="#1c1c1c"/><circle cx="562.4" cy="860.4" r="2.65" fill="#1c1c1c"/><circle cx="579.1" cy="860.4" r="2.65" fill="#1c1c1c"/><circle cx="598.7" cy="857.3" r="2.65" fill="#1c1c1c"/><circle cx="595.6" cy="860.4" r="2.65" fill="#1c1c1c"/><circle cx="550.1" cy="872.8" r="2.65" fill="#1c1c1c"/><circle cx="553.2" cy="872.8" r="2.65" fill="#1c1c1c"/><circle cx="549.1" cy="875.9" r="2.65" fill="#1c1c1c"/><circle cx="562.4" cy="869.8" r="2.65" fill="#1c1c1c"/><circle cx="575.7" cy="869.8" r="2.65" fill="#1c1c1c"/><circle cx="578.9" cy="872.8" r="2.65" fill="#1c1c1c"/><circle cx="585.7" cy="872.8" r="2.65" fill="#1c1c1c"/><circle cx="588.8" cy="875.9" r="2.65" fill="#1c1c1c"/><circle cx="591.9" cy="877.5" r="2.65" fill="#1c1c1c"/><circle cx="596.1" cy="869.8" r="2.65" fill="#1c1c1c"/><circle cx="599.3" cy="869.8" r="2.65" fill="#1c1c1c"/><circle cx="602.4" cy="875.9" r="2.65" fill="#1c1c1c"/><circle cx="566.8" cy="878.5" r="2.65" fill="#1c1c1c"/><circle cx="570.0" cy="879.0" r="2.65" fill="#1c1c1c"/><circle cx="573.1" cy="878.5" r="2.65" fill="#1c1c1c"/><circle cx="579.1" cy="879.0" r="2.65" fill="#1c1c1c"/><circle cx="582.0" cy="882.2" r="2.65" fill="#1c1c1c"/><circle cx="585.1" cy="885.3" r="2.65" fill="#1c1c1c"/><circle cx="555.9" cy="885.3" r="2.65" fill="#1c1c1c"/><circle cx="565.8" cy="888.5" r="2.65" fill="#1c1c1c"/><circle cx="582.0" cy="888.5" r="2.65" fill="#1c1c1c"/><circle cx="588.8" cy="891.6" r="2.65" fill="#1c1c1c"/><circle cx="585.5" cy="898.1" r="2.65" fill="#1c1c1c"/><circle cx="562.4" cy="901.2" r="2.65" fill="#1c1c1c"/><circle cx="536.0" cy="910.6" r="2.65" fill="#1c1c1c"/><circle cx="536.0" cy="916.7" r="2.65" fill="#1c1c1c"/><circle cx="542.6" cy="916.7" r="2.65" fill="#1c1c1c"/><circle cx="542.6" cy="919.8" r="2.65" fill="#1c1c1c"/><circle cx="565.8" cy="923.0" r="2.65" fill="#1c1c1c"/><circle cx="539.1" cy="929.2" r="2.65" fill="#1c1c1c"/><circle cx="542.6" cy="932.6" r="2.65" fill="#1c1c1c"/><circle cx="532.8" cy="935.5" r="2.65" fill="#1c1c1c"/><circle cx="608.9" cy="847.7" r="2.65" fill="#1c1c1c"/><circle cx="622.0" cy="844.5" r="2.65" fill="#1c1c1c"/><circle cx="622.0" cy="851.0" r="2.65" fill="#1c1c1c"/><circle cx="618.8" cy="866.5" r="2.65" fill="#1c1c1c"/><circle cx="622.0" cy="863.3" r="2.65" fill="#1c1c1c"/><circle cx="625.1" cy="863.9" r="2.65" fill="#1c1c1c"/><circle cx="635.0" cy="860.2" r="2.65" fill="#1c1c1c"/><circle cx="645.0" cy="859.7" r="2.65" fill="#1c1c1c"/><circle cx="651.3" cy="853.9" r="2.65" fill="#1c1c1c"/><circle cx="651.8" cy="861.5" r="2.65" fill="#1c1c1c"/><circle cx="658.4" cy="866.5" r="2.65" fill="#1c1c1c"/><circle cx="664.9" cy="864.4" r="2.65" fill="#1c1c1c"/><circle cx="668.5" cy="856.5" r="2.65" fill="#1c1c1c"/><circle cx="672.2" cy="853.9" r="2.65" fill="#1c1c1c"/><circle cx="675.3" cy="853.9" r="2.65" fill="#1c1c1c"/><circle cx="615.5" cy="879.0" r="2.65" fill="#1c1c1c"/><circle cx="631.9" cy="879.0" r="2.65" fill="#1c1c1c"/><circle cx="661.7" cy="879.0" r="2.65" fill="#1c1c1c"/><circle cx="612.3" cy="885.3" r="2.65" fill="#1c1c1c"/><circle cx="622.0" cy="891.6" r="2.65" fill="#1c1c1c"/><circle cx="612.3" cy="904.1" r="2.65" fill="#1c1c1c"/><circle cx="684.6" cy="851.8" r="2.65" fill="#1c1c1c"/><circle cx="688.0" cy="851.8" r="2.65" fill="#1c1c1c"/><circle cx="684.6" cy="855.2" r="2.65" fill="#1c1c1c"/><circle cx="688.0" cy="857.4" r="2.65" fill="#1c1c1c"/><circle cx="694.8" cy="850.9" r="2.65" fill="#1c1c1c"/><circle cx="704.9" cy="854.0" r="2.65" fill="#1c1c1c"/><circle cx="708.3" cy="845.0" r="2.65" fill="#1c1c1c"/><circle cx="711.7" cy="841.4" r="2.65" fill="#1c1c1c"/><circle cx="708.3" cy="847.9" r="2.65" fill="#1c1c1c"/><circle cx="717.9" cy="854.0" r="2.65" fill="#1c1c1c"/><circle cx="721.2" cy="850.7" r="2.65" fill="#1c1c1c"/><circle cx="728.0" cy="841.4" r="2.65" fill="#1c1c1c"/><circle cx="734.2" cy="847.5" r="2.65" fill="#1c1c1c"/></g>
<g><text x="193" y="1022.6999999999999" font-size="16.7" font-weight="bold" text-anchor="middle" fill="#1c1c1c">4 kHz</text><path d="M61,1043.3 V1218.3 H56 M56,1043.3 H61 M61,1193.3 H325" fill="none" stroke="#1c1c1c" stroke-width="2"/><line x1="56" y1="1218.40" x2="61" y2="1218.40" stroke="#1c1c1c" stroke-width="1.6"/><text x="55.2" y="1222.90" font-size="12.6" font-weight="bold" text-anchor="end" fill="#1c1c1c">-20</text><line x1="56" y1="1193.30" x2="61" y2="1193.30" stroke="#1c1c1c" stroke-width="1.6"/><text x="55.2" y="1197.80" font-size="12.6" font-weight="bold" text-anchor="end" fill="#1c1c1c">0</text><line x1="56" y1="1168.20" x2="61" y2="1168.20" stroke="#1c1c1c" stroke-width="1.6"/><text x="55.2" y="1172.70" font-size="12.6" font-weight="bold" text-anchor="end" fill="#1c1c1c">20</text><line x1="56" y1="1143.10" x2="61" y2="1143.10" stroke="#1c1c1c" stroke-width="1.6"/><text x="55.2" y="1147.60" font-size="12.6" font-weight="bold" text-anchor="end" fill="#1c1c1c">40</text><line x1="56" y1="1118.00" x2="61" y2="1118.00" stroke="#1c1c1c" stroke-width="1.6"/><text x="55.2" y="1122.50" font-size="12.6" font-weight="bold" text-anchor="end" fill="#1c1c1c">60</text><line x1="56" y1="1092.90" x2="61" y2="1092.90" stroke="#1c1c1c" stroke-width="1.6"/><text x="55.2" y="1097.40" font-size="12.6" font-weight="bold" text-anchor="end" fill="#1c1c1c">80</text><line x1="56" y1="1067.80" x2="61" y2="1067.80" stroke="#1c1c1c" stroke-width="1.6"/><text x="55.2" y="1072.30" font-size="12.6" font-weight="bold" text-anchor="end" fill="#1c1c1c">100</text><line x1="56" y1="1042.70" x2="61" y2="1042.70" stroke="#1c1c1c" stroke-width="1.6"/><text x="55.2" y="1047.20" font-size="12.6" font-weight="bold" text-anchor="end" fill="#1c1c1c">120</text><line x1="127.00" y1="1193.3" x2="127.00" y2="1197.8" stroke="#1c1c1c" stroke-width="1.6"/><text x="127.00" y="1210.5" font-size="12.6" font-weight="bold" text-anchor="middle" fill="#1c1c1c">20</text><line x1="193.00" y1="1193.3" x2="193.00" y2="1197.8" stroke="#1c1c1c" stroke-width="1.6"/><text x="193.00" y="1210.5" font-size="12.6" font-weight="bold" text-anchor="middle" fill="#1c1c1c">40</text><line x1="259.00" y1="1193.3" x2="259.00" y2="1197.8" stroke="#1c1c1c" stroke-width="1.6"/><text x="259.00" y="1210.5" font-size="12.6" font-weight="bold" text-anchor="middle" fill="#1c1c1c">60</text><line x1="325.00" y1="1193.3" x2="325.00" y2="1197.8" stroke="#1c1c1c" stroke-width="1.6"/><text x="325.00" y="1210.5" font-size="12.6" font-weight="bold" text-anchor="middle" fill="#1c1c1c">80</text><text x="193" y="1227.8999999999999" font-size="13.4" font-weight="bold" text-anchor="middle" textLength="76" lengthAdjust="spacingAndGlyphs" fill="#1c1c1c">Age (years)</text><text transform="translate(23.9,1128.8) rotate(-90)" font-size="13.4" font-weight="bold" text-anchor="middle" textLength="117" lengthAdjust="spacingAndGlyphs" fill="#1c1c1c">Hearing level (dB)</text><text x="304" y="1166.1" font-size="11.5" font-weight="bold" fill="#1c1c1c">0.62 dB</text><line x1="61.0" y1="1145.4" x2="325.0" y2="1083.2" stroke="#1c1c1c" stroke-width="1.2"/><polyline points="61.0,1136.1 74.2,1133.8 87.4,1131.5 100.6,1129.1 113.8,1126.8 127.0,1124.3 140.2,1121.8 153.4,1119.1 166.6,1116.3 179.8,1113.3 193.0,1110.1 206.2,1106.7 219.4,1103.1 232.6,1099.5 245.8,1095.7 259.0,1091.9 272.2,1088.0 285.4,1084.1 298.6,1080.2 311.8,1076.2 325.0,1072.3" fill="none" stroke="#1c1c1c" stroke-width="2" stroke-dasharray="3.2,2.05"/><polyline points="61.0,1154.6 74.2,1150.7 87.4,1146.8 100.6,1142.9 113.8,1139.1 127.0,1135.3 140.2,1131.7 153.4,1128.1 166.6,1124.7 179.8,1121.5 193.0,1118.5 206.2,1115.7 219.4,1113.0 232.6,1110.5 245.8,1108.1 259.0,1105.7 272.2,1103.3 285.4,1101.0 298.6,1098.7 311.8,1096.4 325.0,1094.2" fill="none" stroke="#1c1c1c" stroke-width="2" stroke-dasharray="3.2,2.05"/><circle cx="140.4" cy="1055.1" r="2.65" fill="#1c1c1c"/><circle cx="130.5" cy="1067.7" r="2.65" fill="#1c1c1c"/><circle cx="146.8" cy="1108.6" r="2.65" fill="#1c1c1c"/><circle cx="155.8" cy="1108.6" r="2.65" fill="#1c1c1c"/><circle cx="159.8" cy="1108.6" r="2.65" fill="#1c1c1c"/><circle cx="163.7" cy="1108.6" r="2.65" fill="#1c1c1c"/><circle cx="166.8" cy="1105.2" r="2.65" fill="#1c1c1c"/><circle cx="166.8" cy="1108.6" r="2.65" fill="#1c1c1c"/><circle cx="163.1" cy="1114.8" r="2.65" fill="#1c1c1c"/><circle cx="130.5" cy="1114.8" r="2.65" fill="#1c1c1c"/><circle cx="137.2" cy="1114.8" r="2.65" fill="#1c1c1c"/><circle cx="133.9" cy="1118.1" r="2.65" fill="#1c1c1c"/><circle cx="143.4" cy="1118.1" r="2.65" fill="#1c1c1c"/><circle cx="147.4" cy="1118.1" r="2.65" fill="#1c1c1c"/><circle cx="150.7" cy="1118.1" r="2.65" fill="#1c1c1c"/><circle cx="159.8" cy="1119.8" r="2.65" fill="#1c1c1c"/><circle cx="117.3" cy="1121.0" r="2.65" fill="#1c1c1c"/><circle cx="120.3" cy="1124.3" r="2.65" fill="#1c1c1c"/><circle cx="104.0" cy="1127.5" r="2.65" fill="#1c1c1c"/><circle cx="149.6" cy="1124.3" r="2.65" fill="#1c1c1c"/><circle cx="153.6" cy="1124.3" r="2.65" fill="#1c1c1c"/><circle cx="156.4" cy="1127.7" r="2.65" fill="#1c1c1c"/><circle cx="117.3" cy="1130.5" r="2.65" fill="#1c1c1c"/><circle cx="123.7" cy="1133.3" r="2.65" fill="#1c1c1c"/><circle cx="123.7" cy="1135.6" r="2.65" fill="#1c1c1c"/><circle cx="131.0" cy="1130.5" r="2.65" fill="#1c1c1c"/><circle cx="134.4" cy="1130.5" r="2.65" fill="#1c1c1c"/><circle cx="137.8" cy="1130.0" r="2.65" fill="#1c1c1c"/><circle cx="140.6" cy="1130.5" r="2.65" fill="#1c1c1c"/><circle cx="133.9" cy="1133.9" r="2.65" fill="#1c1c1c"/><circle cx="137.2" cy="1133.9" r="2.65" fill="#1c1c1c"/><circle cx="146.8" cy="1130.5" r="2.65" fill="#1c1c1c"/><circle cx="153.6" cy="1130.5" r="2.65" fill="#1c1c1c"/><circle cx="157.5" cy="1130.5" r="2.65" fill="#1c1c1c"/><circle cx="160.1" cy="1133.9" r="2.65" fill="#1c1c1c"/><circle cx="170.2" cy="1130.5" r="2.65" fill="#1c1c1c"/><circle cx="110.8" cy="1142.9" r="2.65" fill="#1c1c1c"/><circle cx="153.6" cy="1142.9" r="2.65" fill="#1c1c1c"/><circle cx="104.0" cy="1161.7" r="2.65" fill="#1c1c1c"/><circle cx="133.9" cy="1174.4" r="2.65" fill="#1c1c1c"/><circle cx="110.8" cy="1174.4" r="2.65" fill="#1c1c1c"/><circle cx="107.4" cy="1177.3" r="2.65" fill="#1c1c1c"/><circle cx="100.6" cy="1184.0" r="2.65" fill="#1c1c1c"/><circle cx="233.1" cy="1080.2" r="2.65" fill="#1c1c1c"/><circle cx="190.0" cy="1089.4" r="2.65" fill="#1c1c1c"/><circle cx="190.0" cy="1092.8" r="2.65" fill="#1c1c1c"/><circle cx="219.5" cy="1099.0" r="2.65" fill="#1c1c1c"/><circle cx="239.3" cy="1099.0" r="2.65" fill="#1c1c1c"/><circle cx="203.2" cy="1105.2" r="2.65" fill="#1c1c1c"/><circle cx="213.4" cy="1105.2" r="2.65" fill="#1c1c1c"/><circle cx="219.5" cy="1105.2" r="2.65" fill="#1c1c1c"/><circle cx="236.4" cy="1102.9" r="2.65" fill="#1c1c1c"/><circle cx="243.0" cy="1105.2" r="2.65" fill="#1c1c1c"/><circle cx="176.8" cy="1108.3" r="2.65" fill="#1c1c1c"/><circle cx="186.9" cy="1114.2" r="2.65" fill="#1c1c1c"/><circle cx="193.1" cy="1114.8" r="2.65" fill="#1c1c1c"/><circle cx="180.1" cy="1117.6" r="2.65" fill="#1c1c1c"/><circle cx="193.1" cy="1117.6" r="2.65" fill="#1c1c1c"/><circle cx="199.8" cy="1117.6" r="2.65" fill="#1c1c1c"/><circle cx="229.7" cy="1117.6" r="2.65" fill="#1c1c1c"/><circle cx="226.3" cy="1127.5" r="2.65" fill="#1c1c1c"/><circle cx="183.5" cy="1130.5" r="2.65" fill="#1c1c1c"/><circle cx="180.1" cy="1133.9" r="2.65" fill="#1c1c1c"/><circle cx="190.0" cy="1130.5" r="2.65" fill="#1c1c1c"/><circle cx="190.0" cy="1136.7" r="2.65" fill="#1c1c1c"/><circle cx="253.0" cy="1092.6" r="2.65" fill="#1c1c1c"/><circle cx="263.1" cy="1089.4" r="2.65" fill="#1c1c1c"/><circle cx="276.0" cy="1089.4" r="2.65" fill="#1c1c1c"/><circle cx="279.4" cy="1086.3" r="2.65" fill="#1c1c1c"/><circle cx="286.0" cy="1092.6" r="2.65" fill="#1c1c1c"/><circle cx="295.7" cy="1092.6" r="2.65" fill="#1c1c1c"/><circle cx="253.0" cy="1105.2" r="2.65" fill="#1c1c1c"/><circle cx="256.3" cy="1108.6" r="2.65" fill="#1c1c1c"/><circle cx="289.0" cy="1099.0" r="2.65" fill="#1c1c1c"/><circle cx="302.5" cy="1099.0" r="2.65" fill="#1c1c1c"/><circle cx="272.7" cy="1121.0" r="2.65" fill="#1c1c1c"/></g>
<g><text x="625.2" y="1022.6999999999999" font-size="16.7" font-weight="bold" text-anchor="middle" fill="#1c1c1c">8 kHz</text><path d="M493.2,1043.3 V1218.3 H488.2 M488.2,1043.3 H493.2 M493.2,1193.3 H757.2" fill="none" stroke="#1c1c1c" stroke-width="2"/><line x1="488.2" y1="1218.40" x2="493.2" y2="1218.40" stroke="#1c1c1c" stroke-width="1.6"/><text x="487.4" y="1222.90" font-size="12.6" font-weight="bold" text-anchor="end" fill="#1c1c1c">-20</text><line x1="488.2" y1="1193.30" x2="493.2" y2="1193.30" stroke="#1c1c1c" stroke-width="1.6"/><text x="487.4" y="1197.80" font-size="12.6" font-weight="bold" text-anchor="end" fill="#1c1c1c">0</text><line x1="488.2" y1="1168.20" x2="493.2" y2="1168.20" stroke="#1c1c1c" stroke-width="1.6"/><text x="487.4" y="1172.70" font-size="12.6" font-weight="bold" text-anchor="end" fill="#1c1c1c">20</text><line x1="488.2" y1="1143.10" x2="493.2" y2="1143.10" stroke="#1c1c1c" stroke-width="1.6"/><text x="487.4" y="1147.60" font-size="12.6" font-weight="bold" text-anchor="end" fill="#1c1c1c">40</text><line x1="488.2" y1="1118.00" x2="493.2" y2="1118.00" stroke="#1c1c1c" stroke-width="1.6"/><text x="487.4" y="1122.50" font-size="12.6" font-weight="bold" text-anchor="end" fill="#1c1c1c">60</text><line x1="488.2" y1="1092.90" x2="493.2" y2="1092.90" stroke="#1c1c1c" stroke-width="1.6"/><text x="487.4" y="1097.40" font-size="12.6" font-weight="bold" text-anchor="end" fill="#1c1c1c">80</text><line x1="488.2" y1="1067.80" x2="493.2" y2="1067.80" stroke="#1c1c1c" stroke-width="1.6"/><text x="487.4" y="1072.30" font-size="12.6" font-weight="bold" text-anchor="end" fill="#1c1c1c">100</text><line x1="488.2" y1="1042.70" x2="493.2" y2="1042.70" stroke="#1c1c1c" stroke-width="1.6"/><text x="487.4" y="1047.20" font-size="12.6" font-weight="bold" text-anchor="end" fill="#1c1c1c">120</text><line x1="559.20" y1="1193.3" x2="559.20" y2="1197.8" stroke="#1c1c1c" stroke-width="1.6"/><text x="559.20" y="1210.5" font-size="12.6" font-weight="bold" text-anchor="middle" fill="#1c1c1c">20</text><line x1="625.20" y1="1193.3" x2="625.20" y2="1197.8" stroke="#1c1c1c" stroke-width="1.6"/><text x="625.20" y="1210.5" font-size="12.6" font-weight="bold" text-anchor="middle" fill="#1c1c1c">40</text><line x1="691.20" y1="1193.3" x2="691.20" y2="1197.8" stroke="#1c1c1c" stroke-width="1.6"/><text x="691.20" y="1210.5" font-size="12.6" font-weight="bold" text-anchor="middle" fill="#1c1c1c">60</text><line x1="757.20" y1="1193.3" x2="757.20" y2="1197.8" stroke="#1c1c1c" stroke-width="1.6"/><text x="757.20" y="1210.5" font-size="12.6" font-weight="bold" text-anchor="middle" fill="#1c1c1c">80</text><text x="625.2" y="1227.8999999999999" font-size="13.4" font-weight="bold" text-anchor="middle" textLength="76" lengthAdjust="spacingAndGlyphs" fill="#1c1c1c">Age (years)</text><text transform="translate(456.09999999999997,1128.8) rotate(-90)" font-size="13.4" font-weight="bold" text-anchor="middle" textLength="117" lengthAdjust="spacingAndGlyphs" fill="#1c1c1c">Hearing level (dB)</text><text x="736.2" y="1166.1" font-size="11.5" font-weight="bold" fill="#1c1c1c">0.61 dB</text><line x1="493.2" y1="1138.0" x2="757.2" y2="1077.6" stroke="#1c1c1c" stroke-width="1.2"/><polyline points="493.2,1127.9 506.4,1125.8 519.6,1123.6 532.8,1121.4 546.0,1119.2 559.2,1116.9 572.4,1114.5 585.6,1111.9 598.8,1109.2 612.0,1106.3 625.2,1103.2 638.4,1099.9 651.6,1096.4 664.8,1092.7 678.0,1089.0 691.2,1085.2 704.4,1081.3 717.6,1077.5 730.8,1073.6 744.0,1069.6 757.2,1065.7" fill="none" stroke="#1c1c1c" stroke-width="2" stroke-dasharray="3.2,2.05"/><polyline points="493.2,1148.0 506.4,1144.1 519.6,1140.2 532.8,1136.4 546.0,1132.6 559.2,1128.9 572.4,1125.2 585.6,1121.7 598.8,1118.4 612.0,1115.2 625.2,1112.3 638.4,1109.6 651.6,1107.1 664.8,1104.7 678.0,1102.4 691.2,1100.2 704.4,1098.0 717.6,1095.8 730.8,1093.7 744.0,1091.6 757.2,1089.5" fill="none" stroke="#1c1c1c" stroke-width="2" stroke-dasharray="3.2,2.05"/><circle cx="572.6" cy="1042.6" r="2.65" fill="#1c1c1c"/><circle cx="562.3" cy="1070.9" r="2.65" fill="#1c1c1c"/><circle cx="599.0" cy="1077.4" r="2.65" fill="#1c1c1c"/><circle cx="562.3" cy="1083.4" r="2.65" fill="#1c1c1c"/><circle cx="555.9" cy="1092.8" r="2.65" fill="#1c1c1c"/><circle cx="562.3" cy="1099.2" r="2.65" fill="#1c1c1c"/><circle cx="569.4" cy="1102.3" r="2.65" fill="#1c1c1c"/><circle cx="535.9" cy="1105.3" r="2.65" fill="#1c1c1c"/><circle cx="549.5" cy="1105.3" r="2.65" fill="#1c1c1c"/><circle cx="599.0" cy="1105.3" r="2.65" fill="#1c1c1c"/><circle cx="552.7" cy="1111.7" r="2.65" fill="#1c1c1c"/><circle cx="565.9" cy="1111.7" r="2.65" fill="#1c1c1c"/><circle cx="579.1" cy="1111.7" r="2.65" fill="#1c1c1c"/><circle cx="579.1" cy="1114.9" r="2.65" fill="#1c1c1c"/><circle cx="586.1" cy="1111.3" r="2.65" fill="#1c1c1c"/><circle cx="590.6" cy="1111.3" r="2.65" fill="#1c1c1c"/><circle cx="593.9" cy="1111.3" r="2.65" fill="#1c1c1c"/><circle cx="585.5" cy="1117.5" r="2.65" fill="#1c1c1c"/><circle cx="590.0" cy="1117.5" r="2.65" fill="#1c1c1c"/><circle cx="595.5" cy="1117.5" r="2.65" fill="#1c1c1c"/><circle cx="569.4" cy="1123.3" r="2.65" fill="#1c1c1c"/><circle cx="595.5" cy="1124.0" r="2.65" fill="#1c1c1c"/><circle cx="602.2" cy="1127.2" r="2.65" fill="#1c1c1c"/><circle cx="549.5" cy="1130.4" r="2.65" fill="#1c1c1c"/><circle cx="565.5" cy="1129.1" r="2.65" fill="#1c1c1c"/><circle cx="565.5" cy="1133.0" r="2.65" fill="#1c1c1c"/><circle cx="562.3" cy="1136.8" r="2.65" fill="#1c1c1c"/><circle cx="572.6" cy="1130.4" r="2.65" fill="#1c1c1c"/><circle cx="576.5" cy="1126.5" r="2.65" fill="#1c1c1c"/><circle cx="580.3" cy="1126.5" r="2.65" fill="#1c1c1c"/><circle cx="581.6" cy="1130.4" r="2.65" fill="#1c1c1c"/><circle cx="585.5" cy="1130.4" r="2.65" fill="#1c1c1c"/><circle cx="588.7" cy="1127.8" r="2.65" fill="#1c1c1c"/><circle cx="591.9" cy="1133.0" r="2.65" fill="#1c1c1c"/><circle cx="539.2" cy="1145.8" r="2.65" fill="#1c1c1c"/><circle cx="542.8" cy="1149.0" r="2.65" fill="#1c1c1c"/><circle cx="535.9" cy="1152.3" r="2.65" fill="#1c1c1c"/><circle cx="542.8" cy="1155.5" r="2.65" fill="#1c1c1c"/><circle cx="565.9" cy="1168.0" r="2.65" fill="#1c1c1c"/><circle cx="532.7" cy="1174.4" r="2.65" fill="#1c1c1c"/><circle cx="622.0" cy="1061.3" r="2.65" fill="#1c1c1c"/><circle cx="622.0" cy="1074.0" r="2.65" fill="#1c1c1c"/><circle cx="608.5" cy="1083.4" r="2.65" fill="#1c1c1c"/><circle cx="665.1" cy="1065.1" r="2.65" fill="#1c1c1c"/><circle cx="645.2" cy="1092.8" r="2.65" fill="#1c1c1c"/><circle cx="621.4" cy="1105.3" r="2.65" fill="#1c1c1c"/><circle cx="625.2" cy="1107.2" r="2.65" fill="#1c1c1c"/><circle cx="618.2" cy="1111.7" r="2.65" fill="#1c1c1c"/><circle cx="651.6" cy="1098.9" r="2.65" fill="#1c1c1c"/><circle cx="668.4" cy="1095.0" r="2.65" fill="#1c1c1c"/><circle cx="672.2" cy="1095.6" r="2.65" fill="#1c1c1c"/><circle cx="632.3" cy="1111.7" r="2.65" fill="#1c1c1c"/><circle cx="635.9" cy="1111.7" r="2.65" fill="#1c1c1c"/><circle cx="661.9" cy="1105.3" r="2.65" fill="#1c1c1c"/><circle cx="674.2" cy="1102.7" r="2.65" fill="#1c1c1c"/><circle cx="651.6" cy="1113.0" r="2.65" fill="#1c1c1c"/><circle cx="658.7" cy="1111.7" r="2.65" fill="#1c1c1c"/><circle cx="611.7" cy="1117.5" r="2.65" fill="#1c1c1c"/><circle cx="611.7" cy="1124.0" r="2.65" fill="#1c1c1c"/><circle cx="615.6" cy="1124.0" r="2.65" fill="#1c1c1c"/><circle cx="622.0" cy="1120.7" r="2.65" fill="#1c1c1c"/><circle cx="625.2" cy="1124.6" r="2.65" fill="#1c1c1c"/><circle cx="685.0" cy="1086.3" r="2.65" fill="#1c1c1c"/><circle cx="694.8" cy="1083.6" r="2.65" fill="#1c1c1c"/><circle cx="685.0" cy="1095.1" r="2.65" fill="#1c1c1c"/><circle cx="688.2" cy="1092.6" r="2.65" fill="#1c1c1c"/><circle cx="688.2" cy="1108.6" r="2.65" fill="#1c1c1c"/><circle cx="704.8" cy="1111.6" r="2.65" fill="#1c1c1c"/><circle cx="708.2" cy="1082.6" r="2.65" fill="#1c1c1c"/><circle cx="711.3" cy="1080.1" r="2.65" fill="#1c1c1c"/><circle cx="708.2" cy="1086.3" r="2.65" fill="#1c1c1c"/><circle cx="718.2" cy="1086.6" r="2.65" fill="#1c1c1c"/><circle cx="721.3" cy="1102.3" r="2.65" fill="#1c1c1c"/><circle cx="727.6" cy="1092.6" r="2.65" fill="#1c1c1c"/><circle cx="734.5" cy="1092.6" r="2.65" fill="#1c1c1c"/></g>
</svg></body></html>
